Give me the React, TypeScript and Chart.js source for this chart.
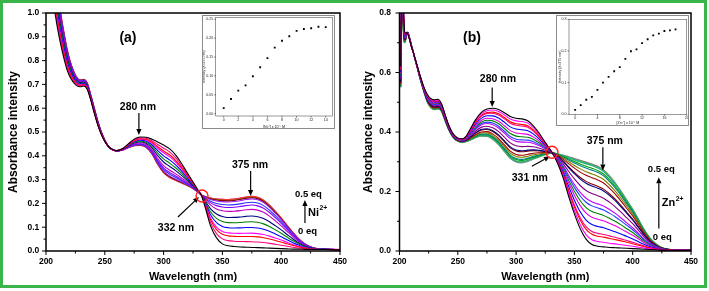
import React, { useEffect, useRef } from "react";
import { Chart, registerables } from "chart.js";
Chart.register(...registerables);

const FONT = "Arial, 'Liberation Sans', sans-serif";

// ---------------- Panel (a): Ni2+ titration ----------------
const WL_A = [202, 204, 206, 208, 210, 212, 214, 216, 218, 220, 223, 226, 229, 232, 235, 238, 241, 244, 247, 250, 253, 256, 260, 265, 270, 275, 280, 285, 290, 295, 300, 305, 310, 315, 320, 325, 330, 332, 335, 340, 345, 350, 355, 360, 365, 370, 375, 380, 385, 390, 395, 400, 405, 410, 415, 420, 425, 430, 435, 440, 450];
// 0 eq spectrum (black)
const ABS_A_0EQ = [1.25, 1.15, 1.06, 0.99, 0.93, 0.88, 0.835, 0.795, 0.76, 0.735, 0.71, 0.695, 0.69, 0.693, 0.68, 0.635, 0.58, 0.53, 0.49, 0.46, 0.44, 0.428, 0.422, 0.43, 0.45, 0.47, 0.479, 0.478, 0.47, 0.458, 0.445, 0.43, 0.405, 0.37, 0.33, 0.29, 0.25, 0.236, 0.19, 0.105, 0.055, 0.03, 0.022, 0.019, 0.017, 0.016, 0.015, 0.014, 0.013, 0.012, 0.011, 0.01, 0.009, 0.008, 0.008, 0.007, 0.007, 0.006, 0.006, 0.006, 0.005];
// 0.5 eq spectrum (final)
const ABS_A_05EQ = [1.45, 1.35, 1.25, 1.16, 1.08, 1.01, 0.95, 0.895, 0.845, 0.805, 0.76, 0.73, 0.718, 0.72, 0.705, 0.655, 0.6, 0.545, 0.5, 0.465, 0.44, 0.427, 0.42, 0.424, 0.435, 0.443, 0.445, 0.437, 0.41, 0.365, 0.33, 0.31, 0.298, 0.287, 0.276, 0.263, 0.245, 0.236, 0.229, 0.222, 0.218, 0.216, 0.215, 0.217, 0.221, 0.226, 0.229, 0.225, 0.213, 0.192, 0.166, 0.138, 0.107, 0.077, 0.05, 0.03, 0.017, 0.01, 0.008, 0.007, 0.006];
const NI_CONC = [0, 1, 2, 3, 4, 5, 6, 7, 8, 9, 10, 11, 12, 13, 14];
const NI_INT375 = [0.015, 0.039, 0.061, 0.075, 0.099, 0.123, 0.147, 0.175, 0.193, 0.205, 0.219, 0.224, 0.226, 0.23, 0.229];
const NI_XTICKS = [0, 2, 4, 6, 8, 10, 12, 14];
const NI_YTICKS = [0, 0.05, 0.1, 0.15, 0.2, 0.25];
const COLORS_A = ["#000000", "#ff0080", "#ff0000", "#ff00ff", "#0000ff", "#008000", "#000080", "#c000c0", "#8000ff", "#3030ff", "#a020f0", "#800000", "#808000", "#ff3030", "#ff40c0"];

// ---------------- Panel (b): Zn2+ titration ----------------
const WL_B = [201, 202, 203, 204, 205, 206, 207, 208, 210, 212, 215, 218, 221, 224, 227, 230, 233, 236, 239, 242, 245, 248, 251, 254, 257, 260, 265, 270, 275, 280, 285, 290, 295, 300, 305, 310, 315, 320, 325, 331, 335, 340, 345, 350, 355, 360, 365, 370, 375, 380, 385, 390, 395, 400, 405, 410, 415, 420, 425, 430, 440, 450];
const ABS_B_0EQ = [0.62, 0.9, 0.86, 0.76, 0.73, 0.735, 0.73, 0.72, 0.69, 0.665, 0.625, 0.585, 0.55, 0.525, 0.512, 0.508, 0.51, 0.495, 0.46, 0.425, 0.4, 0.385, 0.378, 0.377, 0.385, 0.405, 0.44, 0.465, 0.477, 0.48, 0.476, 0.465, 0.452, 0.446, 0.444, 0.438, 0.42, 0.395, 0.365, 0.33, 0.3, 0.25, 0.185, 0.125, 0.075, 0.04, 0.022, 0.016, 0.014, 0.012, 0.011, 0.01, 0.009, 0.008, 0.007, 0.006, 0.005, 0.004, 0.003, 0.003, 0.002, 0.002];
const ABS_B_05EQ = [0.55, 0.82, 0.77, 0.7, 0.705, 0.73, 0.735, 0.725, 0.695, 0.665, 0.62, 0.575, 0.535, 0.5, 0.482, 0.476, 0.478, 0.47, 0.44, 0.41, 0.388, 0.374, 0.368, 0.366, 0.368, 0.372, 0.381, 0.387, 0.386, 0.376, 0.358, 0.335, 0.312, 0.3, 0.297, 0.302, 0.31, 0.317, 0.324, 0.33, 0.327, 0.322, 0.316, 0.31, 0.304, 0.298, 0.292, 0.284, 0.272, 0.252, 0.228, 0.2, 0.17, 0.14, 0.105, 0.07, 0.042, 0.023, 0.011, 0.006, 0.003, 0.002];
const ZN_CONC = [0, 1, 2, 3, 4, 5, 6, 7, 8, 9, 10, 11, 12, 13, 14, 15, 16, 17, 18];
const ZN_INT375 = [0.014, 0.029, 0.046, 0.055, 0.077, 0.1, 0.118, 0.136, 0.149, 0.175, 0.199, 0.205, 0.225, 0.237, 0.249, 0.255, 0.263, 0.265, 0.268];
const ZN_XTICKS = [0, 4, 8, 12, 16, 20];
const ZN_YTICKS = [0, 0.1, 0.2, 0.3];
const COLORS_B = ["#000000", "#ff00ff", "#ff0000", "#ff0080", "#0000ff", "#e000e0", "#008000", "#2040ff", "#c000ff", "#800080", "#000080", "#800000", "#a00000", "#808000", "#008080", "#00a000", "#20b090", "#40c040", "#808080"];

type Pt = { x: number; y: number };

// each intermediate spectrum = mix of 0 eq and 0.5 eq spectra, weighted by its
// own 375 nm reading from the inset
function buildSpectra(wl: number[], a0: number[], a1: number[], titr: number[]): Pt[][] {
  const base = titr[0];
  const span = titr[titr.length - 1] - titr[0];
  return titr.map((v) => {
    const f = (v - base) / span;
    return wl.map((x, j) => ({ x, y: a0[j] + (a1[j] - a0[j]) * f }));
  });
}

type Ann =
  | { t: "text"; x: number; y: number; s: string; size: number; align?: CanvasTextAlign; sup?: string }
  | { t: "arrow"; x1: number; y1: number; x2: number; y2: number }
  | { t: "circle"; x: number; y: number; r: number };

const ANN_A: Ann[] = [
  { t: "text", x: 269.7, y: 0.895, s: "(a)", size: 14 },
  { t: "text", x: 278.2, y: 0.605, s: "280 nm", size: 10.5 },
  { t: "arrow", x1: 279, y1: 0.58, x2: 279, y2: 0.487 },
  { t: "text", x: 373.5, y: 0.361, s: "375 nm", size: 10.5 },
  { t: "arrow", x1: 374, y1: 0.336, x2: 374, y2: 0.231 },
  { t: "text", x: 310.5, y: 0.097, s: "332 nm", size: 10.5 },
  { t: "arrow", x1: 312.2, y1: 0.143, x2: 330.1, y2: 0.227 },
  { t: "circle", x: 332.7, y: 0.231, r: 6 },
  { t: "text", x: 411.7, y: 0.24, s: "0.5 eq", size: 9.5, align: "left" },
  { t: "arrow", x1: 420.2, y1: 0.118, x2: 420.2, y2: 0.214 },
  { t: "text", x: 422.8, y: 0.16, s: "Ni", size: 11, align: "left", sup: "2+" },
  { t: "text", x: 414.3, y: 0.084, s: "0 eq", size: 9.5, align: "left" },
];

const ANN_B: Ann[] = [
  { t: "text", x: 262.1, y: 0.715, s: "(b)", size: 14 },
  { t: "text", x: 284.4, y: 0.577, s: "280 nm", size: 10.5 },
  { t: "arrow", x1: 279.5, y1: 0.55, x2: 279.5, y2: 0.484 },
  { t: "text", x: 376.1, y: 0.369, s: "375 nm", size: 10.5 },
  { t: "arrow", x1: 374.4, y1: 0.349, x2: 374.4, y2: 0.271 },
  { t: "text", x: 311.8, y: 0.244, s: "331 nm", size: 10.5 },
  { t: "arrow", x1: 313.5, y1: 0.285, x2: 329, y2: 0.318 },
  { t: "circle", x: 330.7, y: 0.332, r: 6 },
  { t: "text", x: 413, y: 0.275, s: "0.5 eq", size: 9.5, align: "left" },
  { t: "arrow", x1: 422.4, y1: 0.076, x2: 422.4, y2: 0.248 },
  { t: "text", x: 425, y: 0.16, s: "Zn", size: 11, align: "left", sup: "2+" },
  { t: "text", x: 417.3, y: 0.046, s: "0 eq", size: 9.5, align: "left" },
];

function framePlugin(width: number, color: string) {
  return {
    id: "frame",
    afterDraw(chart: any) {
      const { ctx, chartArea: a } = chart;
      ctx.save();
      ctx.strokeStyle = color;
      ctx.lineWidth = width;
      ctx.strokeRect(a.left, a.top, a.right - a.left, a.bottom - a.top);
      ctx.restore();
    },
  };
}

function ticksPlugin(major: number, minor: number, lw: number, withMinor: boolean) {
  return {
    id: "ticksDraw",
    afterDraw(chart: any) {
      const { ctx, chartArea: a } = chart;
      const xs = chart.scales.x;
      const ys = chart.scales.y;
      ctx.save();
      ctx.strokeStyle = "#000";
      ctx.lineWidth = lw;
      ctx.beginPath();
      const xv: number[] = xs.ticks.map((t: any) => t.value);
      const yv: number[] = ys.ticks.map((t: any) => t.value);
      xv.forEach((v, i) => {
        const px = xs.getPixelForValue(v);
        ctx.moveTo(px, a.bottom);
        ctx.lineTo(px, a.bottom + major);
        if (withMinor && i < xv.length - 1) {
          const pm = xs.getPixelForValue((v + xv[i + 1]) / 2);
          ctx.moveTo(pm, a.bottom);
          ctx.lineTo(pm, a.bottom + minor);
        }
      });
      yv.forEach((v, i) => {
        const py = ys.getPixelForValue(v);
        ctx.moveTo(a.left, py);
        ctx.lineTo(a.left - major, py);
        if (withMinor && i < yv.length - 1) {
          const pm = ys.getPixelForValue((v + yv[i + 1]) / 2);
          ctx.moveTo(a.left, pm);
          ctx.lineTo(a.left - minor, pm);
        }
      });
      ctx.stroke();
      ctx.restore();
    },
  };
}

function annPlugin(anns: Ann[]) {
  return {
    id: "annotations",
    afterDraw(chart: any) {
      const { ctx } = chart;
      const xs = chart.scales.x;
      const ys = chart.scales.y;
      const X = (v: number) => xs.getPixelForValue(v);
      const Y = (v: number) => ys.getPixelForValue(v);
      ctx.save();
      ctx.fillStyle = "#000";
      ctx.strokeStyle = "#000";
      anns.forEach((an) => {
        if (an.t === "text") {
          ctx.font = `bold ${an.size}px ${FONT}`;
          ctx.textAlign = an.align || "center";
          ctx.textBaseline = "middle";
          const px = X(an.x);
          const py = Y(an.y);
          ctx.fillText(an.s, px, py);
          if (an.sup) {
            const w = ctx.measureText(an.s).width;
            ctx.font = `bold ${an.size * 0.62}px ${FONT}`;
            ctx.textAlign = "left";
            ctx.fillText(an.sup, px + w + 0.5, py - an.size * 0.42);
          }
        } else if (an.t === "arrow") {
          const x1 = X(an.x1), y1 = Y(an.y1), x2 = X(an.x2), y2 = Y(an.y2);
          const ang = Math.atan2(y2 - y1, x2 - x1);
          const hl = 6, hw = 2.6;
          const bx = x2 - hl * Math.cos(ang), by = y2 - hl * Math.sin(ang);
          ctx.lineWidth = 1.2;
          ctx.beginPath();
          ctx.moveTo(x1, y1);
          ctx.lineTo(bx, by);
          ctx.stroke();
          ctx.beginPath();
          ctx.moveTo(x2, y2);
          ctx.lineTo(bx + hw * Math.sin(ang), by - hw * Math.cos(ang));
          ctx.lineTo(bx - hw * Math.sin(ang), by + hw * Math.cos(ang));
          ctx.closePath();
          ctx.fill();
        } else {
          ctx.beginPath();
          ctx.strokeStyle = "#ff2020";
          ctx.lineWidth = 1.4;
          ctx.arc(X(an.x), Y(an.y), an.r, 0, Math.PI * 2);
          ctx.stroke();
          ctx.strokeStyle = "#000";
        }
      });
      ctx.restore();
    },
  };
}

type MainSpec = {
  wl: number[]; a0: number[]; a1: number[]; titr: number[]; colors: string[];
  yMax: number; yStep: number; width: number; height: number;
  areaLeft: number; areaRight: number; areaTop: number; areaBottom: number;
  yLabelPad: number; anns: Ann[];
};

function mainConfig(p: MainSpec): any {
  const spectra = buildSpectra(p.wl, p.a0, p.a1, p.titr);
  const n = spectra.length;
  const tickFont = { family: FONT, size: 8.5, weight: "bold" as const };
  return {
    type: "line",
    data: {
      datasets: spectra.map((pts, i) => ({
        data: pts,
        borderColor: p.colors[i],
        borderWidth: i === n - 1 ? 1.6 : 1.1,
        pointRadius: 0,
        fill: false,
        cubicInterpolationMode: "monotone",
      })),
    },
    options: {
      animation: false,
      responsive: false,
      devicePixelRatio: 1,
      events: [],
      layout: { padding: { left: 0, top: p.areaTop, right: p.width - p.areaRight, bottom: 0 } },
      plugins: { legend: { display: false }, tooltip: { enabled: false } },
      scales: {
        x: {
          type: "linear",
          min: 200,
          max: 450,
          ticks: { stepSize: 50, font: tickFont, color: "#000", padding: 2, maxRotation: 0, autoSkip: false },
          grid: { display: false, drawTicks: true, tickLength: 4 },
          border: { display: false },
          title: { display: true, text: "Wavelength (nm)", color: "#000", font: { family: FONT, size: 11, weight: "bold" }, padding: { top: 0, bottom: 7.4 } },
          afterFit: (s: any) => { s.height = p.height - p.areaBottom; s.paddingLeft = 0; s.paddingRight = 0; },
        },
        y: {
          type: "linear",
          min: 0,
          max: p.yMax,
          ticks: { stepSize: p.yStep, font: tickFont, color: "#000", padding: p.yLabelPad, callback: (v: any) => Number(v).toFixed(1) },
          grid: { display: false, drawTicks: true, tickLength: 4 },
          border: { display: false },
          title: { display: true, text: "Absorbance intensity", color: "#000", font: { family: FONT, size: 12, weight: "bold" }, padding: { top: 6, bottom: 0 } },
          afterFit: (s: any) => { s.width = p.areaLeft; s.paddingTop = 0; s.paddingBottom = 0; },
        },
      },
    },
    plugins: [framePlugin(1.5, "#000"), ticksPlugin(4, 2.5, 1, true), annPlugin(p.anns)],
  };
}

type InsetSpec = {
  xs: number[]; ys: number[]; xMin: number; xMax: number; xTicks: number[];
  yMin: number; yMax: number; yTicks: number[]; yDigits: number; xTitle: string;
  width: number; height: number; areaLeft: number; areaRight: number; areaTop: number; areaBottom: number;
  yTitlePad: number; xTitlePad: number;
};

function insetConfig(p: InsetSpec): any {
  const tf = { family: FONT, size: 3.6 };
  return {
    type: "scatter",
    data: {
      datasets: [{
        data: p.xs.map((x, i) => ({ x, y: p.ys[i] })),
        pointStyle: "rect",
        pointRadius: 1.3,
        backgroundColor: "#000",
        borderColor: "#000",
        borderWidth: 0,
      }],
    },
    options: {
      animation: false,
      responsive: false,
      devicePixelRatio: 1,
      events: [],
      layout: { padding: { left: 0, top: p.areaTop, right: p.width - p.areaRight, bottom: 0 } },
      plugins: { legend: { display: false }, tooltip: { enabled: false } },
      scales: {
        x: {
          type: "linear", min: p.xMin, max: p.xMax,
          ticks: { font: tf, color: "#222", padding: 0.5, maxRotation: 0, autoSkip: false },
          afterBuildTicks: (s: any) => { s.ticks = p.xTicks.map((v) => ({ value: v })); },
          grid: { display: false, drawTicks: true, tickLength: 1.5 },
          border: { display: false },
          title: { display: true, text: p.xTitle, color: "#222", font: tf, padding: { top: 0, bottom: p.xTitlePad } },
          afterFit: (s: any) => { s.height = p.height - p.areaBottom; s.paddingLeft = 0; s.paddingRight = 0; },
        },
        y: {
          type: "linear", min: p.yMin, max: p.yMax,
          ticks: { font: tf, color: "#222", padding: 1, callback: (v: any) => Number(v).toFixed(p.yDigits) },
          afterBuildTicks: (s: any) => { s.ticks = p.yTicks.map((v) => ({ value: v })); },
          grid: { display: false, drawTicks: true, tickLength: 1.5 },
          border: { display: false },
          title: { display: true, text: "Intensity (λ=375 nm)", color: "#222", font: tf, padding: { top: p.yTitlePad, bottom: 0 } },
          afterFit: (s: any) => { s.width = p.areaLeft; s.paddingTop = 0; s.paddingBottom = 0; },
        },
      },
    },
    plugins: [framePlugin(0.6, "#555"), ticksPlugin(1.5, 0, 0.5, false)],
  };
}

function ChartBox({ left, top, width, height, make }: { left: number; top: number; width: number; height: number; make: () => any }) {
  const ref = useRef<HTMLCanvasElement>(null);
  useEffect(() => {
    const c = new Chart(ref.current as HTMLCanvasElement, make());
    return () => c.destroy();
  }, []);
  return <canvas ref={ref} width={width} height={height} style={{ position: "absolute", left, top, width, height }} />;
}

function InsetBorder({ left, top, width, height }: { left: number; top: number; width: number; height: number }) {
  return <div style={{ position: "absolute", left, top, width, height, border: "1px solid #8a8a8a", boxSizing: "border-box", pointerEvents: "none" }} />;
}

export default function App() {
  return (
    <div style={{ position: "fixed", left: 0, top: 0, width: 709, height: 291, background: "#fff", overflow: "hidden" }}>
      <ChartBox left={0} top={0} width={355} height={291} make={() => mainConfig({
        wl: WL_A, a0: ABS_A_0EQ, a1: ABS_A_05EQ, titr: NI_INT375, colors: COLORS_A,
        yMax: 1, yStep: 0.1, width: 355, height: 291,
        areaLeft: 46, areaRight: 340, areaTop: 13, areaBottom: 251, yLabelPad: 2.7, anns: ANN_A,
      })} />
      <ChartBox left={355} top={0} width={354} height={291} make={() => mainConfig({
        wl: WL_B, a0: ABS_B_0EQ, a1: ABS_B_05EQ, titr: ZN_INT375, colors: COLORS_B,
        yMax: 0.8, yStep: 0.2, width: 354, height: 291,
        areaLeft: 44.5, areaRight: 336, areaTop: 13, areaBottom: 251, yLabelPad: 4.5, anns: ANN_B,
      })} />
      <ChartBox left={196} top={12} width={142} height={120} make={() => insetConfig({
        xs: NI_CONC, ys: NI_INT375, xMin: -1.1, xMax: 14.9, xTicks: NI_XTICKS, yMin: -0.006, yMax: 0.255, yTicks: NI_YTICKS, yDigits: 2,
        xTitle: "[Ni²⁺] x 10⁻⁵ M", width: 142, height: 120, areaLeft: 19.7, areaRight: 136.3, areaTop: 5.3, areaBottom: 104,
        yTitlePad: 6.3, xTitlePad: 3.1,
      })} />
      <ChartBox left={550} top={12} width={145} height={120} make={() => insetConfig({
        xs: ZN_CONC, ys: ZN_INT375, xMin: -1.1, xMax: 20, xTicks: ZN_XTICKS, yMin: 0, yMax: 0.3, yTicks: ZN_YTICKS, yDigits: 1,
        xTitle: "[Zn²⁺] x 10⁻⁵ M", width: 145, height: 120, areaLeft: 19, areaRight: 136.7, areaTop: 7.3, areaBottom: 102.3,
        yTitlePad: 7.8, xTitlePad: 6.5,
      })} />
      <InsetBorder left={202} top={15} width={133} height={114} />
      <InsetBorder left={556} top={15} width={133} height={111} />
      <div style={{ position: "absolute", left: 0, top: 0, width: 707, height: 288, border: "3px solid #3ab54a", boxSizing: "border-box", pointerEvents: "none" }} />
    </div>
  );
}
